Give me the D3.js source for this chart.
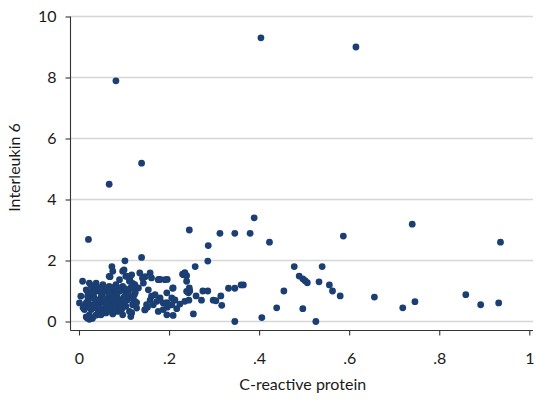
<!DOCTYPE html>
<html><head><meta charset="utf-8">
<script src="https://cdn.jsdelivr.net/npm/d3@7"></script>
<style>body{margin:0;background:#fff}svg{display:block}</style>
</head><body>
<svg id="c" width="536" height="402"></svg>
<script>
const xTicks = [0, 0.2, 0.4, 0.6, 0.8, 1];
const xTickLabels = ["0", ".2", ".4", ".6", ".8", "1"];
const yTicks = [0, 2, 4, 6, 8, 10];
const xTitle = "C-reactive protein";
const yTitle = "Interleukin 6";

// C-reactive protein values
const crp = [
 0.404,0.615,0.082,0.139,0.067,0.021,0.389,0.740,0.936,0.245,0.587,0.423,0.313,0.346,0.380,0.287,
 0.286,0.258,0.235,0.230,0.239,0.478,0.540,0.489,0.497,0.502,0.507,0.533,0.556,0.563,0.580,0.455,
 0.439,0.497,0.406,0.346,0.526,0.365,0.360,0.332,0.346,0.275,0.286,0.315,0.298,0.304,0.317,0.272,
 0.260,0.244,0.245,0.246,0.243,0.254,0.209,0.224,0.217,0.212,0.208,0.195,0.180,0.656,0.719,0.746,
 0.859,0.892,0.932,0.139,0.102,0.073,0.100,0.069,0.106,0.113,0.119,0.124,0.141,0.147,0.178,0.196,
 0.158,0.146,0.152,0.195,0.196,0.115,0.017,0.028,0.023,0.047,0.039,
 0.117,0.135,0.158,0.161,0.176,0.191,0.143,0.124,0.132,0.154,0.169,0.161,0.180,0.173,0.187,0.165,
 0.209,0.206,0.213,0.206,0.232,0.239,0.239,0.235,0.124,0.128,0.150,0.147,0.195,0.117,0.176,0.187,
 0.075,0.097,0.067,0.104,0.090,0.112,0.008,0.023,0.038,0.053,0.067,0.082,0.097,0.115,0.016,0.030,
 0.045,0.060,0.075,0.090,0.104,0.123,0.004,0.019,0.034,0.049,0.064,0.078,0.093,0.108,0.001,0.016,
 0.030,0.045,0.060,0.075,0.090,0.104,0.119,0.012,0.027,0.042,0.056,0.071,0.086,0.097,0.023,0.030,
 0.019,0.038,0.049,0.112,
 0.030,0.050,0.070,0.085,0.100,0.040,0.055,0.070,0.085,0.100,0.025,0.040,0.065,0.080,0.095,0.035,
 0.050,0.065,0.080,0.095,0.110,0.020,0.045,0.060,0.075,0.088,0.058,0.072,0.110,0.120,0.125,0.128,
 0.020,0.012,
 0.027,0.042,0.057,0.072,0.087,0.102,0.034,0.052,0.068,0.083,0.108,0.022,0.037,0.062,0.078,0.093,
 0.033,0.048,0.063,0.054,0.044,0.016,0.009
];
// Interleukin 6 values
const il6 = [
 9.30,9.00,7.89,5.19,4.50,2.69,3.40,3.19,2.60,3.00,2.80,2.60,2.89,2.89,2.89,2.49,
 1.98,1.80,1.60,1.55,1.50,1.80,1.80,1.49,1.40,1.34,1.27,1.30,1.20,1.00,0.84,1.00,
 0.45,0.42,0.13,0.00,0.00,1.20,1.20,1.09,1.09,1.00,1.00,0.84,0.70,0.68,0.53,0.70,
 0.84,0.70,1.10,1.00,0.94,0.25,0.20,0.57,0.42,0.70,1.09,0.94,1.38,0.80,0.45,0.65,
 0.88,0.55,0.61,2.10,1.99,1.80,1.69,1.47,1.49,1.36,1.25,1.14,1.42,1.47,1.38,1.38,
 0.70,0.38,0.47,0.62,0.47,0.16,0.48,0.10,0.07,0.38,0.21,
 1.53,1.59,1.59,1.43,1.37,1.37,1.26,1.21,1.10,1.04,0.88,0.83,0.77,0.66,0.61,0.55,
 1.10,0.77,0.71,0.55,1.53,1.32,0.99,0.66,0.66,0.44,0.55,0.39,0.22,0.28,0.33,0.39,
 1.65,1.65,1.48,1.48,1.37,1.32,1.32,1.26,1.26,1.21,1.15,1.21,1.15,1.10,1.04,1.04,
 0.99,0.99,0.93,0.99,0.93,0.88,0.83,0.83,0.77,0.77,0.77,0.71,0.71,0.71,0.61,0.61,
 0.55,0.61,0.55,0.55,0.50,0.50,0.55,0.39,0.39,0.39,0.39,0.33,0.33,0.22,0.22,0.11,
 0.11,0.22,0.22,0.33,
 0.90,0.85,0.85,0.80,0.80,0.70,0.65,0.65,0.60,0.60,0.50,0.48,0.45,0.42,0.40,1.15,
 1.10,1.05,1.05,1.05,1.00,0.95,0.30,0.28,0.25,0.50,0.72,0.78,0.85,0.75,0.95,0.62,
 0.70,0.52,
 1.18,1.12,1.10,1.12,1.10,1.08,0.96,0.92,0.90,0.88,0.92,0.75,0.68,0.58,0.52,0.48,
 0.45,0.44,0.35,0.30,0.25,0.15,0.45
];

const data = crp.map((v, i) => ({x: v, y: il6[i]}));

const svg = d3.select("#c");
const font = "Lato, 'Open Sans', sans-serif";
const x = d3.scaleLinear().domain([0, 1]).range([79, 529.3]);
const y = d3.scaleLinear().domain([0, 10]).range([321.5, 16.5]);
const axisX = 70.5, axisY = 330.5, rightEdge = 533;

// gridlines
svg.append("g").selectAll("line").data(yTicks).join("line")
  .attr("x1", axisX).attr("x2", rightEdge)
  .attr("y1", d => y(d)).attr("y2", d => y(d))
  .attr("stroke", "#d6d6d6").attr("stroke-width", 1.3);

// y axis
const gy = svg.append("g").attr("transform", `translate(${axisX},0)`)
  .call(d3.axisLeft(y).tickValues(yTicks).tickSize(5).tickPadding(9).tickFormat(d3.format("d")));
gy.select(".domain").attr("d", `M0,${y(10)}V${axisY}`);

// x axis
const gx = svg.append("g").attr("transform", `translate(0,${axisY})`)
  .call(d3.axisBottom(x).tickValues(xTicks).tickSize(5).tickPadding(17)
    .tickFormat((d, i) => xTickLabels[i]));
gx.select(".domain").attr("d", `M${axisX},0H${rightEdge}`);

[gx, gy].forEach(g => {
  g.select(".domain").attr("stroke", "#333").attr("stroke-width", 1.1);
  g.selectAll(".tick line").attr("stroke", "#333").attr("stroke-width", 1.1);
  g.selectAll(".tick text").attr("fill", "#1a1a1a").style("font-family", font).style("font-size", "16px");
});

// points
svg.append("g").selectAll("circle").data(data).join("circle")
  .attr("cx", d => x(d.x)).attr("cy", d => y(d.y)).attr("r", 3.4)
  .attr("fill", "#1b3f72");

// titles
svg.append("text").attr("x", (axisX + rightEdge) / 2 + 1).attr("y", 390)
  .attr("text-anchor", "middle").style("font-family", font).style("font-size", "16px")
  .attr("fill", "#1a1a1a").text(xTitle);
svg.append("text").attr("transform", `translate(20,${(y(10) + axisY) / 2 - 6}) rotate(-90)`)
  .attr("text-anchor", "middle").style("font-family", font).style("font-size", "16px")
  .attr("fill", "#1a1a1a").text(yTitle);
</script>
</body></html>
